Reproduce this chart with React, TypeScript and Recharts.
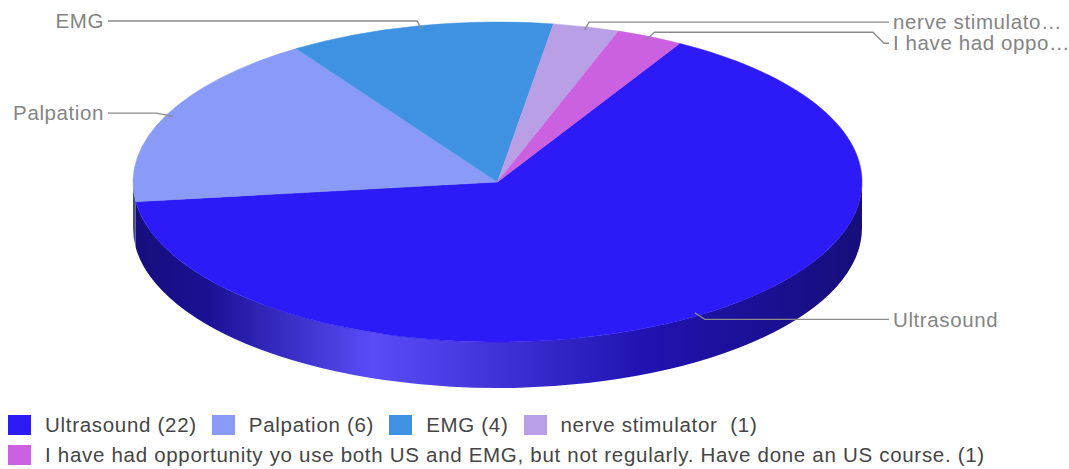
import { PieChart, Pie, Legend } from 'recharts';

const names = [
  'Ultrasound',
  'Palpation',
  'EMG',
  'nerve stimulator ',
  'I have had opportunity yo use both US and EMG, but not regularly. Have done an US course.',
];
const counts = [22, 6, 4, 1, 1];
const colors = ['#2c1bf6', '#8a9bf7', '#3f92e1', '#b9a0e6', '#cb60e0'];

const data = names.map((name, i) => ({ name, value: counts[i] }));

const FONT = '"Liberation Sans", Arial, sans-serif';
const TILT = 0.439; // vertical squash of the pie top
const DEPTH = 46;
const LEFT_X = 104;
const RIGHT_X = 893;

const hex = (c: string) => [1, 3, 5].map((i) => parseInt(c.slice(i, i + 2), 16));
const mix = (c: string, to: number, t: number) =>
  'rgb(' + hex(c).map((v) => Math.round(v + (to - v) * t)).join(',') + ')';

// point on the ellipse for a recharts angle (degrees, ccw from 3 o'clock)
const ell = (cx: number, cy: number, rx: number, ry: number, deg: number, k = 1) => {
  const r = (deg * Math.PI) / 180;
  return { x: cx + rx * k * Math.cos(r), y: cy - ry * k * Math.sin(r) };
};

const renderSide = (p: any) => {
  const { cx, cy, outerRadius: rx, startAngle, endAngle, index } = p;
  const ry = rx * TILT;
  const a0 = 90 - startAngle;
  const a1 = 90 - endAngle;
  const parts: number[][] = [];
  for (const k of [-360, 0, 360]) {
    const lo = Math.max(a0, 90 + k);
    const hi = Math.min(a1, 270 + k);
    if (hi > lo) parts.push([lo, hi]);
  }
  const c = colors[index];
  const id = `side-grad-${index}`;
  return (
    <g>
      <defs>
        <linearGradient id={id} gradientUnits="userSpaceOnUse" x1={cx - rx} x2={cx + rx} y1={0} y2={0}>
          <stop offset="0" stopColor={mix(c, 0, 0.5)} />
          <stop offset="0.1" stopColor={mix(c, 0, 0.4)} />
          <stop offset="0.33" stopColor={mix(c, 255, 0.22)} />
          <stop offset="0.7" stopColor={mix(c, 0, 0.28)} />
          <stop offset="1" stopColor={mix(c, 0, 0.5)} />
        </linearGradient>
      </defs>
      {parts.map(([lo, hi], j) => {
        const s = ell(cx, cy, rx, ry, 90 - lo);
        const e = ell(cx, cy, rx, ry, 90 - hi);
        const large = hi - lo > 180 ? 1 : 0;
        const d = `M${s.x},${s.y} A${rx},${ry} 0 ${large} 1 ${e.x},${e.y} L${e.x},${e.y + DEPTH} A${rx},${ry} 0 ${large} 0 ${s.x},${s.y + DEPTH} Z`;
        return <path key={j} d={d} fill={`url(#${id})`} />;
      })}
    </g>
  );
};

const renderTop = (p: any) => {
  const { cx, cy, outerRadius: rx, startAngle, endAngle, index } = p;
  const ry = rx * TILT;
  const s = ell(cx, cy, rx, ry, startAngle);
  const e = ell(cx, cy, rx, ry, endAngle);
  const large = Math.abs(startAngle - endAngle) > 180 ? 1 : 0;
  const d = `M${cx},${cy} L${s.x},${s.y} A${rx},${ry} 0 ${large} 1 ${e.x},${e.y} Z`;
  return <path d={d} fill={colors[index]} stroke={colors[index]} strokeWidth={0.5} />;
};

let placed: { right: boolean; y: number }[] = [];

const renderLabel = (p: any) => {
  const { cx, cy, outerRadius: rx, startAngle, endAngle, index, name } = p;
  if (index === 0) placed = [];
  const ry = rx * TILT;
  const mid = (startAngle + endAngle) / 2;
  const a = ell(cx, cy, rx, ry, mid, 0.98);
  const b = ell(cx, cy, rx, ry, mid, 1.03);
  const right = a.x >= cx;
  let ty = b.y;
  while (placed.some((q) => q.right === right && Math.abs(q.y - ty) < 21)) ty += 1;
  placed.push({ right, y: ty });
  const end = right ? RIGHT_X - 4 : LEFT_X + 4;
  const dir = right ? 1 : -1;
  const pts = [a, b, { x: end - dir * 16, y: b.y }, { x: end - dir * 5, y: ty }, { x: end, y: ty }];
  const full = name.trim();
  const label = full.length > 15 ? full.slice(0, 15) + '…' : full;
  return (
    <g>
      <polyline points={pts.map((q) => `${q.x},${q.y}`).join(' ')} fill="none" stroke="#8a8a8a" strokeWidth={1.3} />
      <text
        x={right ? RIGHT_X : LEFT_X}
        y={ty}
        dy="0.35em"
        textAnchor={right ? 'start' : 'end'}
        fill="#848484"
        style={{ fontFamily: FONT, fontSize: 20.5, letterSpacing: '0.6px' }}
      >
        {label}
      </text>
    </g>
  );
};

const LegendBox = () => (
  <div
    style={{
      display: 'flex',
      flexWrap: 'wrap',
      paddingLeft: 8,
      width: 1060,
      fontFamily: FONT,
      fontSize: 20.5,
      letterSpacing: '0.7px',
      color: '#454545',
    }}
  >
    {names.map((n, i) => (
      <div key={i} style={{ display: 'flex', alignItems: 'center', height: 30, marginRight: 15 }}>
        <span style={{ width: 23, height: 20, background: colors[i], marginRight: 14, display: 'inline-block' }} />
        <span style={{ whiteSpace: 'pre' }}>{`${n} (${counts[i]})`}</span>
      </div>
    ))}
  </div>
);

export default function App() {
  const pieProps = {
    data,
    dataKey: 'value',
    nameKey: 'name',
    cx: 497.5,
    cy: 182,
    outerRadius: 364.5,
    startAngle: 60,
    endAngle: -300,
    fill: 'transparent',
    stroke: 'none',
    labelLine: false,
    isAnimationActive: false,
    legendType: 'none' as const,
  };
  return (
    <div style={{ position: 'absolute', left: 0, top: 0, width: 1069, height: 469, background: '#fff' }}>
      <PieChart width={1069} height={469} margin={{ top: 0, right: 0, bottom: 0, left: 0 }}>
        {/* side walls, then top faces, then callouts */}
        <Pie {...pieProps} label={renderSide} />
        <Pie {...pieProps} label={renderTop} />
        <Pie {...pieProps} label={renderLabel} />
        <Legend
          content={() => <LegendBox />}
          wrapperStyle={{ position: 'absolute', left: 0, top: 410, width: 1069, height: 60 }}
        />
      </PieChart>
    </div>
  );
}
